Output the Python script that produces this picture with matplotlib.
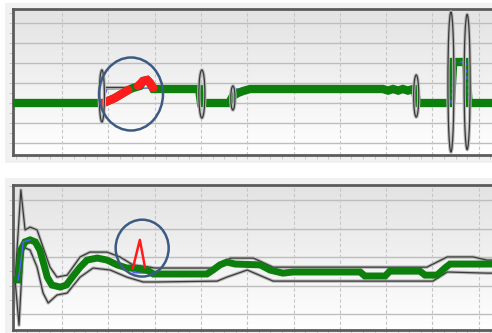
import matplotlib.pyplot as plt
import numpy as np
from matplotlib.patches import Ellipse, Rectangle
from matplotlib.colors import LinearSegmentedColormap
import matplotlib.patheffects as pe

# ---- upper trace (step response) ----
top_x = np.array([-0.06, 1.89, 2.14, 2.43, 2.53, 2.68, 2.75, 2.84, 2.90, 2.97, 3.96, 4.00,
                  4.61, 4.69, 4.80, 4.91, 5.06, 7.93, 8.04, 8.15, 8.26, 8.36, 8.47, 8.58,
                  8.62, 8.67, 9.40, 9.45, 9.73, 9.78, 10.46])
top_y = np.array([2.0, 2.0, 2.25, 2.65, 2.75, 2.85, 3.1, 3.15, 3.0, 2.7, 2.7, 2.0,
                  2.0, 2.35, 2.5, 2.6, 2.7, 2.7, 2.62, 2.7, 2.62, 2.7, 2.62, 2.7,
                  2.7, 2.0, 2.0, 4.05, 4.05, 2.0, 2.0])

top_ref_x = np.array([-0.06, 1.89, 1.97, 2.90, 3.96, 4.03, 4.61, 4.72, 8.62, 8.67,
                      9.40, 9.47, 9.72, 9.79, 10.46])
top_ref_y = np.array([2.0, 2.15, 2.7, 2.75, 2.7, 2.0, 2.0, 2.7, 2.7, 2.0,
                      2.0, 4.05, 4.05, 2.0, 2.0])

top_red1_x = np.array([1.89, 2.14, 2.43])
top_red1_y = np.array([2.0, 2.25, 2.65])
top_red2_x = np.array([2.64, 2.75, 2.84, 2.90, 2.97])
top_red2_y = np.array([2.85, 3.1, 3.15, 3.0, 2.75])

top_env_x = np.array([1.93, 2.53])
top_env_y = np.array([2.8, 2.8])

# transitions: centre time, centre level, spread in time, spread in level
ell_t = np.array([1.86, 4.02, 4.69, 8.65, 9.40, 9.75])
ell_v = np.array([2.35, 2.45, 2.25, 2.35, 3.05, 3.05])
ell_dt = np.array([0.11, 0.13, 0.09, 0.11, 0.13, 0.13])
ell_dv = np.array([2.6, 2.4, 1.2, 2.1, 7.0, 6.75])

# ---- lower trace (settling) ----
bot_x = np.array([-0.015, 0.05, 0.11, 0.20, 0.31, 0.42, 0.52, 0.61, 0.68, 0.78, 0.96, 1.09,
                  1.22, 1.39, 1.54, 1.76, 1.97, 2.19, 2.40, 2.53, 2.84, 2.97, 4.13, 4.26,
                  4.41, 4.56, 4.74, 5.28, 5.49, 5.77, 5.99, 7.44, 7.54, 7.98, 8.08, 8.73,
                  8.84, 9.10, 9.27, 9.38, 10.46])
bot_y = np.array([1.20, 1.20, 2.25, 2.54, 2.61, 2.54, 2.25, 1.73, 1.30, 1.02, 0.95, 1.02,
                  1.30, 1.65, 1.90, 1.97, 1.90, 1.73, 1.62, 1.62, 1.55, 1.41, 1.41, 1.55,
                  1.73, 1.83, 1.76, 1.73, 1.55, 1.44, 1.48, 1.48, 1.34, 1.34, 1.51, 1.51,
                  1.37, 1.37, 1.62, 1.76, 1.76])

bot_up_x = np.array([-0.015, 0.11, 0.20, 0.31, 0.46, 0.61, 0.74, 0.89, 1.11, 1.39, 1.60,
                     1.97, 2.25, 2.53, 2.90, 3.0, 4.35, 4.63, 5.13, 5.56, 8.88, 9.32,
                     9.88, 10.18, 10.46])
bot_up_y = np.array([1.20, 4.37, 2.96, 3.06, 2.96, 2.25, 1.65, 1.30, 1.37, 2.01, 2.18,
                     2.18, 2.01, 1.73, 1.65, 1.62, 1.62, 1.97, 1.97, 1.65, 1.65, 2.01,
                     2.01, 1.90, 1.90])
bot_lo_x = np.array([-0.015, 0.07, 0.16, 0.31, 0.46, 0.59, 0.70, 0.89, 1.11, 1.39, 1.67,
                     2.04, 2.40, 2.75, 3.05, 4.35, 4.56, 5.0, 5.56, 9.01, 9.32, 10.18, 10.46])
bot_lo_y = np.array([1.20, -0.39, 2.36, 2.25, 1.65, 0.74, 0.39, 0.67, 0.74, 1.30, 1.62,
                     1.55, 1.30, 1.13, 1.13, 1.16, 1.30, 1.55, 1.16, 1.16, 1.48, 1.44, 1.44])

bot_ref1_x = np.array([0.05, 0.09, 0.16, 0.31])
bot_ref1_y = np.array([1.20, 1.60, 2.54, 2.61])
bot_ref2_x = np.array([2.45, 2.55, 2.80, 2.90])
bot_ref2_y = np.array([1.60, 1.46, 1.44, 1.46])

bot_red_x = np.array([2.53, 2.68, 2.79])
bot_red_y = np.array([1.62, 2.61, 1.65])

GREEN = '#0d7f0d'
RED = '#ff1c1c'
BLUE = '#5a5aff'
CIRCLE = '#3c5a82'
env_fx = [pe.withStroke(linewidth=2.4, foreground='#b8b8b8')]

fig = plt.figure(figsize=(4.92, 3.33), dpi=100)
fig.patch.set_facecolor('white')
fig.patches.append(Rectangle((0.01, 0.51), 0.99, 0.48, transform=fig.transFigure,
                             facecolor='#f1f1f1', edgecolor='none', zorder=-5))
fig.patches.append(Rectangle((0.01, 0.0), 0.99, 0.465, transform=fig.transFigure,
                             facecolor='#f1f1f1', edgecolor='none', zorder=-5))

ax1 = fig.add_axes([13 / 492, 178 / 333, 487 / 492, 146 / 333])
ax2 = fig.add_axes([13 / 492, 3 / 333, 487 / 492, 145 / 333])

bg = LinearSegmentedColormap.from_list('bg', ['#ffffff', '#e3e3e3'])
for ax, ylim in ((ax1, (-0.6, 6.7)), (ax2, (-0.56, 4.54))):
    ax.set_xlim(-0.06, 10.46)
    ax.set_ylim(*ylim)
    ax.imshow(np.linspace(0, 1, 100).reshape(-1, 1), cmap=bg, origin='lower',
              extent=[0, 1, 0, 1], transform=ax.transAxes, aspect='auto', zorder=0)
    for yv in range(int(np.ceil(ylim[0])), int(ylim[1]) + 1):
        ax.axhline(yv, color='#bdbdbd', lw=1, zorder=1)
    for xv in range(1, 11):
        ax.axvline(xv, color='#c6c6c6', lw=0.8, ls=(0, (3, 2)), zorder=1)
    ax.set_xticks(np.arange(0, 10.5, 0.25))
    ax.set_yticks(np.arange(int(np.ceil(ylim[0])), ylim[1], 0.5))
    ax.tick_params(direction='out', length=3, width=0.7, color='#c8c8c8',
                   labelbottom=False, labelleft=False)
    for s in ax.spines.values():
        s.set_color('#5c5c5c')
        s.set_linewidth(2)

# upper panel
ax1.plot(top_ref_x, top_ref_y, color=BLUE, lw=1, zorder=2)
ax1.plot(top_env_x, top_env_y, color='#3a3a3a', lw=0.9, zorder=2, path_effects=env_fx)
ax1.plot(top_x, top_y, color=GREEN, lw=6, solid_joinstyle='miter', zorder=3)
ax1.plot(top_ref_x[10:14], top_ref_y[10:14], color=BLUE, lw=1.2, ls=(0, (2, 2)),
         alpha=0.8, zorder=3.5)
ax1.plot(top_red1_x, top_red1_y, color=RED, lw=6, solid_capstyle='round', zorder=4)
ax1.plot(top_red2_x, top_red2_y, color=RED, lw=6, solid_capstyle='round', zorder=4)
for t, v, dt, dv in zip(ell_t, ell_v, ell_dt, ell_dv):
    ax1.add_patch(Ellipse((t, v), dt, dv, facecolor='none', edgecolor='#3a3a3a',
                          lw=0.9, zorder=5, path_effects=env_fx))
ax1.add_patch(Ellipse((2.49, 2.45), 1.38, 3.65, facecolor='none', edgecolor=CIRCLE,
                      lw=1.8, zorder=6))

# lower panel
ax2.plot(bot_up_x, bot_up_y, color='#3a3a3a', lw=0.9, zorder=2, path_effects=env_fx)
ax2.plot(bot_lo_x, bot_lo_y, color='#3a3a3a', lw=0.9, zorder=2, path_effects=env_fx)
ax2.plot(bot_x, bot_y, color=GREEN, lw=5, solid_joinstyle='miter', zorder=3)
ax2.plot(bot_ref1_x, bot_ref1_y, color=BLUE, lw=1, zorder=3.5)
ax2.plot(bot_ref2_x, bot_ref2_y, color=BLUE, lw=1.2, zorder=2.5)
ax2.plot(bot_red_x, bot_red_y, color=RED, lw=1.8, zorder=4)
ax2.add_patch(Ellipse((2.73, 2.32), 1.145, 2.0, facecolor='none', edgecolor=CIRCLE,
                      lw=1.8, zorder=6))

fig.savefig('out.png', dpi=100)
